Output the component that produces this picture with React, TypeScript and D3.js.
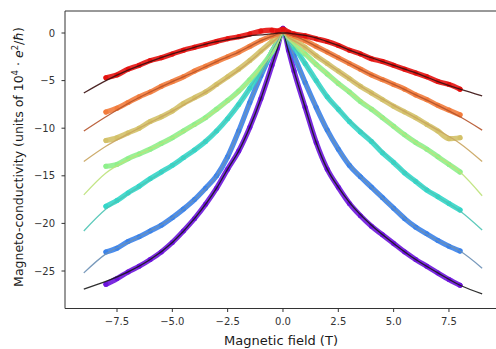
import React from "react";
import * as d3 from "d3";

// Magnetic field grid of the measured points (T)
const FIELD_DATA = [-8, -7.5, -7, -6.5, -6, -5.5, -5, -4.5, -4, -3.5, -3, -2.5, -2, -1.5, -1, -0.5, -0.25, 0, 0.25, 0.5, 1, 1.5, 2, 2.5, 3, 3.5, 4, 4.5, 5, 5.5, 6, 6.5, 7, 7.5, 8];
// Magnetic field grid of the fitted curves (T)
const FIELD_FIT = [-9, -8, -7, -6, -5, -4, -3, -2.5, -2, -1.5, -1, -0.5, -0.2, 0, 0.2, 0.5, 1, 1.5, 2, 2.5, 3, 4, 5, 6, 7, 8, 9];

// measured magneto-conductivity, one array per temperature
const RED_DATA = [-4.7, -4.4, -3.8, -3.4, -2.9, -2.6, -2.2, -1.8, -1.5, -1.2, -0.9, -0.6, -0.4, -0.1, 0.2, 0.3, 0.2, 0.4, 0.1, -0.1, -0.3, -0.6, -0.9, -1.3, -1.8, -2.2, -2.7, -3.0, -3.4, -3.8, -4.2, -4.6, -5.1, -5.4, -5.9];
const ORANGE_DATA = [-8.3, -7.9, -7.3, -6.7, -6.2, -5.6, -5.1, -4.6, -4.0, -3.5, -3.0, -2.5, -2.0, -1.4, -0.8, -0.3, -0.1, 0.2, -0.1, -0.3, -0.8, -1.4, -2.0, -2.6, -3.2, -3.8, -4.4, -4.9, -5.4, -5.9, -6.5, -7.0, -7.6, -8.1, -8.6];
const KHAKI_DATA = [-11.3, -11.0, -10.5, -10.0, -9.3, -8.8, -8.2, -7.4, -6.8, -6.2, -5.4, -4.6, -3.8, -2.9, -1.9, -0.9, -0.4, 0.1, -0.3, -0.7, -1.5, -2.4, -3.2, -4.0, -4.8, -5.6, -6.3, -7.0, -7.7, -8.3, -8.9, -9.6, -10.3, -11.1, -11.0];
const GREEN_DATA = [-14.0, -13.8, -13.2, -12.7, -12.2, -11.6, -11.0, -10.3, -9.6, -8.9, -8.0, -7.1, -6.1, -4.9, -3.6, -2.0, -1.0, 0.3, -0.6, -1.2, -2.2, -3.3, -4.3, -5.3, -6.2, -7.2, -8.0, -8.9, -9.8, -10.7, -11.5, -12.2, -13.0, -13.8, -14.6];
const CYAN_DATA = [-18.2, -17.6, -16.8, -16.1, -15.3, -14.6, -13.9, -13.1, -12.3, -11.4, -10.3, -9.0, -7.5, -5.8, -4.0, -2.0, -1.0, 0.2, -0.8, -1.5, -3.2, -5.0, -6.7, -8.0, -9.3, -10.4, -11.4, -12.6, -13.6, -14.7, -15.6, -16.5, -17.2, -17.9, -18.6];
const BLUE_DATA = [-23.0, -22.6, -21.9, -21.4, -20.8, -20.2, -19.4, -18.5, -17.5, -16.3, -15.0, -13.0, -10.3, -7.3, -4.5, -2.0, -0.9, 0.3, -1.0, -2.4, -5.2, -7.8, -10.2, -12.2, -13.9, -15.1, -16.2, -17.3, -18.4, -19.5, -20.4, -21.1, -21.8, -22.4, -22.9];
const PURPLE_DATA = [-26.4, -25.8, -25.1, -24.5, -23.8, -23.0, -22.0, -20.8, -19.5, -18.0, -16.3, -14.3, -12.4, -9.9, -6.9, -3.4, -1.6, 0.5, -1.8, -4.0, -7.8, -11.5, -14.3, -16.2, -17.9, -19.2, -20.3, -21.2, -22.1, -23.0, -23.8, -24.5, -25.2, -25.9, -26.5];

// fitted curves
const RED_FIT = [-6.3, -5.0, -3.9, -3.0, -2.2, -1.5, -0.9, -0.7, -0.5, -0.3, -0.2, -0.1, 0, 0, 0, -0.1, -0.25, -0.5, -0.9, -1.3, -1.8, -2.6, -3.4, -4.2, -5.1, -5.9, -6.6];
const ORANGE_FIT = [-10.3, -8.8, -7.4, -6.2, -5.1, -4.1, -3.0, -2.5, -2.0, -1.4, -0.8, -0.35, -0.1, 0, -0.1, -0.3, -0.8, -1.4, -2.0, -2.6, -3.2, -4.4, -5.4, -6.5, -7.6, -8.8, -10.2];
const KHAKI_FIT = [-13.5, -11.9, -10.6, -9.4, -8.2, -6.9, -5.5, -4.7, -3.9, -3.0, -2.0, -1.0, -0.4, 0, -0.4, -0.8, -1.5, -2.4, -3.2, -4.0, -4.8, -6.3, -7.6, -8.9, -10.2, -11.6, -13.5];
const GREEN_FIT = [-17.0, -14.7, -13.3, -12.2, -11.0, -9.7, -8.1, -7.2, -6.2, -5.0, -3.7, -2.1, -0.9, 0, -0.6, -1.2, -2.2, -3.3, -4.3, -5.3, -6.2, -7.9, -9.8, -11.5, -13.0, -14.6, -17.1];
const CYAN_FIT = [-20.8, -18.5, -16.9, -15.4, -13.9, -12.3, -10.3, -9.0, -7.5, -5.8, -4.0, -2.0, -0.9, 0, -0.7, -1.5, -3.2, -5.0, -6.7, -8.0, -9.2, -11.3, -13.6, -15.6, -17.2, -18.7, -20.7];
const BLUE_FIT = [-25.2, -23.2, -22.0, -20.8, -19.4, -17.5, -15.0, -13.0, -10.3, -7.3, -4.5, -2.0, -0.7, 0, -0.8, -2.4, -5.2, -7.8, -10.2, -12.2, -13.8, -16.2, -18.4, -20.4, -21.8, -22.9, -24.7];
const PURPLE_FIT = [-26.9, -26.1, -25.1, -23.8, -22.0, -19.5, -16.3, -14.3, -12.4, -9.9, -6.9, -3.4, -1.3, 0, -1.5, -4.0, -7.8, -11.5, -14.3, -16.2, -17.8, -20.2, -22.1, -23.8, -25.2, -26.5, -27.4];

const X_TICKS = [-7.5, -5.0, -2.5, 0.0, 2.5, 5.0, 7.5];
const Y_TICKS = [0, -5, -10, -15, -20, -25];

const SERIES = [
  { data: PURPLE_DATA, fit: PURPLE_FIT, color: "#6d14dc", fitColor: "#1a1a1a" },
  { data: BLUE_DATA, fit: BLUE_FIT, color: "#3a82ea", fitColor: "#6a8fb5" },
  { data: CYAN_DATA, fit: CYAN_FIT, color: "#34d6c9", fitColor: "#4cc4b4" },
  { data: GREEN_DATA, fit: GREEN_FIT, color: "#8ef08c", fitColor: "#bde27a" },
  { data: KHAKI_DATA, fit: KHAKI_FIT, color: "#d3c168", fitColor: "#c9a45e" },
  { data: ORANGE_DATA, fit: ORANGE_FIT, color: "#f27c3c", fitColor: "#b5532a" },
  { data: RED_DATA, fit: RED_FIT, color: "#e5120f", fitColor: "#3a1010" },
];

const FONT = "'DejaVu Sans', sans-serif";

export default function App() {
  const left = 65, top = 11, bottom = 308.5;
  const x = d3.scaleLinear().domain([-9.85, 9.85]).range([left, left + 19.7 * 22.13]);
  const y = d3.scaleLinear().domain([0, -25]).range([33, 33 + 25 * 9.52]);
  const fmtX = (v: number) => v.toFixed(1).replace("-", "\u2212");
  const fmtY = (v: number) => String(v).replace("-", "\u2212");

  const lineData = (vals: number[]) =>
    d3.line<number>().x((_, i) => x(FIELD_DATA[i])).y((v) => y(v)).curve(d3.curveMonotoneX)(vals) || "";
  const lineFit = (vals: number[]) =>
    d3.line<number>().x((_, i) => x(FIELD_FIT[i])).y((v) => y(v)).curve(d3.curveMonotoneX)(vals) || "";

  const right = 496;

  return (
    <svg width={496} height={349} style={{ position: "absolute", left: 0, top: 0, background: "#fff" }} fontFamily={FONT}>
      <rect x={0} y={0} width={496} height={349} fill="#fff" />
      <defs>
        <clipPath id="plot">
          <rect x={left} y={top} width={right - left + 10} height={bottom - top} />
        </clipPath>
      </defs>
      <g clipPath="url(#plot)">
        {SERIES.map((s, k) => (
          <g key={"d" + k}>
            <path d={lineData(s.data)} fill="none" stroke={s.color} strokeWidth={5.2} strokeLinejoin="round" strokeLinecap="round" opacity={0.9} />
            {s.data.map((v, i) => (
              <circle key={i} cx={x(FIELD_DATA[i])} cy={y(v)} r={2.5} fill={s.color} />
            ))}
          </g>
        ))}
        {SERIES.map((s, k) => (
          <path key={"f" + k} d={lineFit(s.fit)} fill="none" stroke={s.fitColor} strokeWidth={1.3} opacity={0.9} />
        ))}
      </g>
      {/* spines */}
      <line x1={left} x2={left} y1={top} y2={bottom} stroke="#333" strokeWidth={1} />
      <line x1={left} x2={right + 5} y1={bottom} y2={bottom} stroke="#333" strokeWidth={1} />
      <line x1={left} x2={right + 5} y1={top} y2={top} stroke="#333" strokeWidth={1} />
      {/* x ticks */}
      {X_TICKS.map((t) => (
        <g key={"xt" + t}>
          <line x1={x(t)} x2={x(t)} y1={bottom} y2={bottom + 3.5} stroke="#333" />
          <text x={x(t)} y={325} fontSize={10} fill="#333" textAnchor="middle">{fmtX(t)}</text>
        </g>
      ))}
      {/* y ticks */}
      {Y_TICKS.map((t) => (
        <g key={"yt" + t}>
          <line x1={left - 3.5} x2={left} y1={y(t)} y2={y(t)} stroke="#333" />
          <text x={55} y={y(t)} dy="0.35em" fontSize={10} fill="#333" textAnchor="end">{fmtY(t)}</text>
        </g>
      ))}
      <text x={281} y={345} fontSize={13} fill="#1a1a1a" textAnchor="middle">Magnetic field (T)</text>
      <text transform="translate(23,157) rotate(-90)" fontSize={12.5} fill="#1a1a1a" textAnchor="middle">
        Magneto-conductivity (units of 10
        <tspan dy={-5} fontSize={8.5}>4</tspan>
        <tspan dy={5}> · </tspan>
        <tspan fontStyle="italic">e</tspan>
        <tspan dy={-5} fontSize={8.5}>2</tspan>
        <tspan dy={5}>/</tspan>
        <tspan fontStyle="italic">ħ</tspan>
        )
      </text>
    </svg>
  );
}
